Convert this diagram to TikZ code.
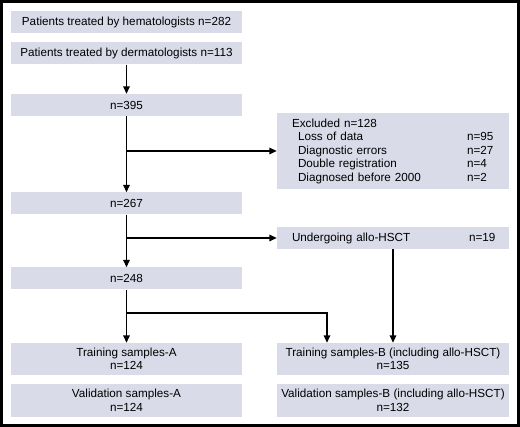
\documentclass[tikz,border=0pt]{standalone}
\usepackage{fontspec}
\setmainfont{Liberation Sans}
\usetikzlibrary{arrows.meta}

\begin{document}
\begin{tikzpicture}[x=1pt, y=-1pt,
		every node/.style={font=\fontsize{11.7}{13.5}\selectfont},
		box/.style={fill=boxfill, inner sep=0pt, minimum width=231pt, minimum height=22pt, align=center},
		arr/.style={-{Triangle[width=6.5pt,length=7.5pt]}, line width=1.5pt}]
		% Define colors
		\definecolor{boxfill}{RGB}{217, 219, 232}
		
		% Frame
		\useasboundingbox (0, 0) rectangle (520, 427);
		\draw[line width=3pt] (1.5, 1.5) rectangle (518.5, 425.5);
		
		% LEFT COLUMN
		\node[box] (hem) at (126.5, 22.5) {Patients treated by hematologists n=282};
		\node[box] (derm) at (126.5, 53.5) {Patients treated by dermatologists n=113};
		\node[box] (n395) at (126.5, 105) {n=395};
		\node[box] (n267) at (126.5, 203.5) {n=267};
		\node[box] (n248) at (126.5, 278.5) {n=248};
		\node[box, minimum height=32pt] (trainA) at (126.5, 359) {Training samples-A\\n=124};
		\node[box, minimum height=33pt] (valA) at (126.5, 400.5) {Validation samples-A\\n=124};
		
		% RIGHT COLUMN
		\node[box, minimum width=232pt, minimum height=76pt, inner xsep=15pt, text width=202pt, align=left] (excl) at (393, 151)
			{Excluded n=128\\
			\hspace*{6pt}\makebox[169pt][l]{Loss of data}n=95\\
			\hspace*{6pt}\makebox[169pt][l]{Diagnostic errors}n=27\\
			\hspace*{6pt}\makebox[169pt][l]{Double registration}n=4\\
			\hspace*{6pt}\makebox[169pt][l]{Diagnosed before 2000}n=2};
		\node[box, minimum width=232pt, inner xsep=15pt, text width=202pt, align=left] (allo) at (393, 238)
			{\makebox[177pt][l]{Undergoing allo-HSCT}n=19};
		\node[box, minimum width=232pt, minimum height=32pt] (trainB) at (393, 359) {Training samples-B (including allo-HSCT)\\n=135};
		\node[box, minimum width=232pt, minimum height=33pt] (valB) at (393, 400.5) {Validation samples-B (including allo-HSCT)\\n=132};
		
		% Connectors
		\coordinate (br1) at (n395.south |- excl.west);
		\coordinate (br2) at (n267.south |- allo.west);
		\coordinate (br3) at (126.5, 313);
		\coordinate (tb) at ([xshift=-66pt]trainB.north);
		\draw[arr] (derm) -- (n395);
		\draw[arr] (n395) -- (n267);
		\draw[arr] (br1) -- (excl.west);
		\draw[arr] (n267) -- (n248);
		\draw[arr] (br2) -- (allo.west);
		\draw[arr] (n248) -- (trainA);
		\draw[arr] (br3) -| (tb);
		\draw[arr] (allo) -- (trainB);
		
	\end{tikzpicture}
\end{document}
